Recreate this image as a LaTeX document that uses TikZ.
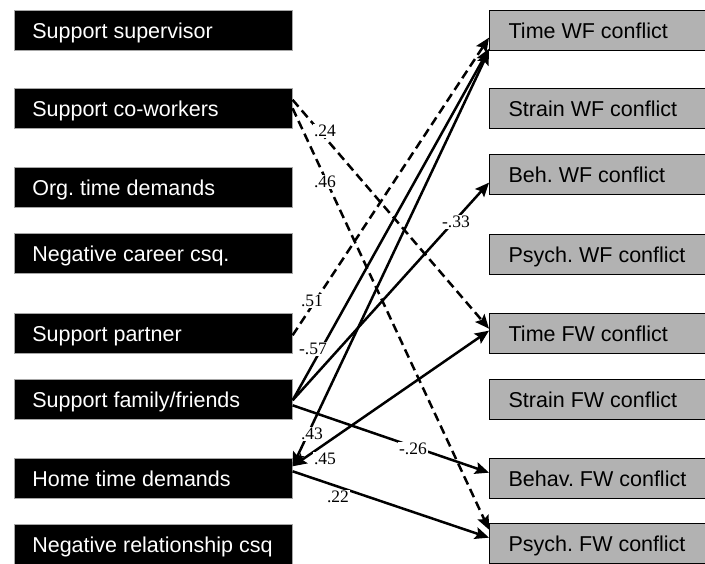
\documentclass[tikz,border=0pt]{standalone}
\usepackage{fontspec}
\setmainfont{Liberation Sans}
\newfontfamily\lblfont{Liberation Serif}
\usetikzlibrary{arrows.meta}
\frenchspacing
\newcommand\ltxt[1]{\makebox[242pt][l]{#1}}
\newcommand\rtxt[1]{\makebox[190pt][l]{#1}}
\begin{document}
\begin{tikzpicture}[x=1pt,y=-1pt,
  boxfont/.style={font=\fontsize{21.5}{25}\selectfont, text height=20pt, text depth=4pt},
  lbox/.style={boxfont, anchor=north west, fill=black, draw=gray!70, line width=0.6pt, text=white,
    minimum height=40pt, inner xsep=18pt, inner ysep=0pt},
  rbox/.style={boxfont, anchor=north west, fill=black!30, draw=black, line width=1.3pt,
    minimum height=40pt, inner xsep=19pt, inner ysep=0pt},
  tip/.tip={Stealth[length=14pt,width=12pt,inset=2.5pt]},
  conn/.style={line width=2.5pt, -tip},
  dconn/.style={conn, dash pattern=on 9pt off 5pt},
  twoway/.style={line width=2.5pt, tip-tip},
  lbl/.style={fill=white, inner sep=1pt, font=\lblfont\fontsize{17.5}{19}\selectfont}
]
\useasboundingbox (0,0) rectangle (705,563);
\clip (0,0) rectangle (705,563);
\fill[white] (0,0) rectangle (705,563);

% left boxes
\node[lbox] (l1) at (14,10)  {\ltxt{Support supervisor}};
\node[lbox] (l2) at (14,88)  {\ltxt{Support co-workers}};
\node[lbox] (l3) at (14,167) {\ltxt{Org. time demands}};
\node[lbox] (l4) at (14,233) {\ltxt{Negative career csq.}};
\node[lbox] (l5) at (14,313) {\ltxt{Support partner}};
\node[lbox] (l6) at (14,379) {\ltxt{Support family/friends}};
\node[lbox] (l7) at (14,458) {\ltxt{Home time demands}};
\node[lbox] (l8) at (14,524) {\ltxt{Negative relationship csq}};

% right boxes
\node[rbox] (r1) at (489,10)  {\rtxt{Time WF conflict}};
\node[rbox] (r2) at (489,88)  {\rtxt{Strain WF conflict}};
\node[rbox] (r3) at (489,154) {\rtxt{Beh. WF conflict}};
\node[rbox] (r4) at (489,234) {\rtxt{Psych. WF conflict}};
\node[rbox] (r5) at (489,313) {\rtxt{Time FW conflict}};
\node[rbox] (r6) at (489,379) {\rtxt{Strain FW conflict}};
\node[rbox] (r7) at (489,458) {\rtxt{Behav. FW conflict}};
\node[rbox] (r8) at (489,523) {\rtxt{Psych. FW conflict}};

% connectors
\draw[dconn] ([yshift=8.5pt]l2.east) -- ([yshift=5pt]r5.west);
\draw[dconn] (l2.east) -- ([yshift=14pt]r8.west);
\draw[dconn] ([yshift=-2pt]l5.east) -- ([yshift=-7pt]r1.west);
\draw[conn] ([yshift=-1pt]l6.east) -- ([yshift=-18pt]r1.west);
\draw[twoway] ([yshift=12pt]l7.east) -- ([yshift=-20pt]r1.west);
\draw[conn] ([yshift=-1pt]l6.east) -- ([yshift=-8pt]r3.west);
\draw[conn] ([yshift=-6pt]l6.east) -- ([yshift=6pt]r7.west);
\draw[twoway] ([yshift=12pt]l7.east) -- ([yshift=3pt]r5.west);
\draw[conn] ([yshift=7pt]l7.east) -- ([yshift=6pt]r8.west);

% labels
\node[lbl] (t24) at (325,131) {.24};
\node[lbl] (t46) at (325,182) {.46};
\node[lbl] (t51) at (312,301) {.51};
\node[lbl] (t57) at (313,349) {-.57};
\node[lbl] (t33) at (456,222) {-.33};
\node[lbl] (t43) at (312,434) {.43};
\node[lbl] (t45) at (325,459) {.45};
\node[lbl] (t26) at (413,449) {-.26};
\node[lbl] (t22) at (338,497) {.22};
\end{tikzpicture}
\end{document}
